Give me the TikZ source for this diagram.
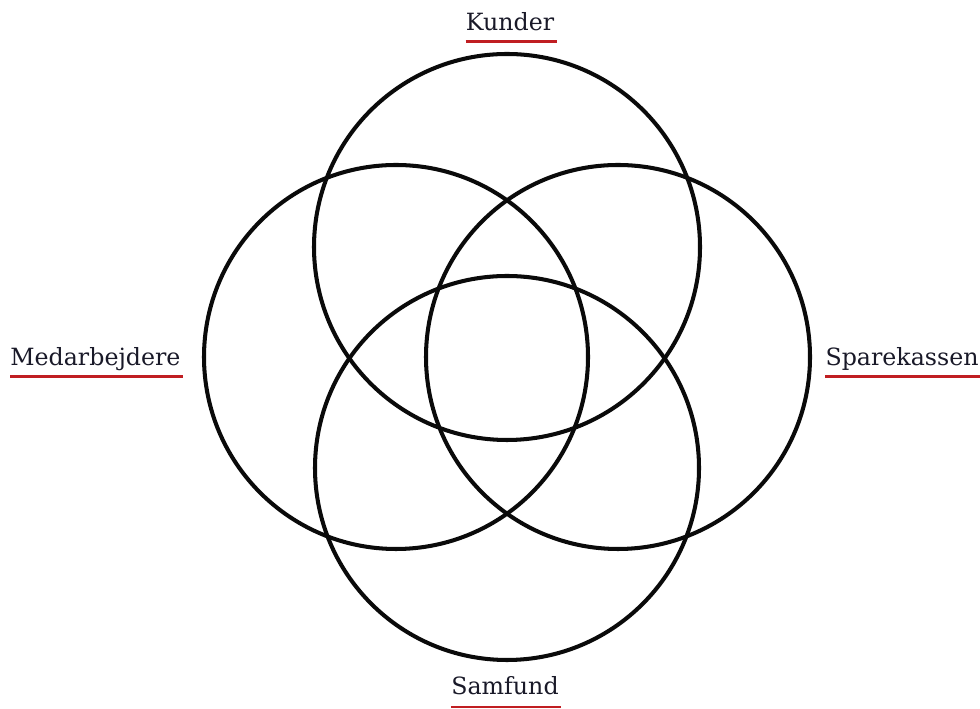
\documentclass[tikz,border=0pt]{standalone}
\usepackage{fontspec}
\setmainfont{DejaVu Serif}
\usetikzlibrary{positioning,calc}

\begin{document}
\begin{tikzpicture}[
    x=0.02cm, y=0.02cm,
    font=\fontsize{13.5}{16}\selectfont,
]

\definecolor{ringColor}{RGB}{10, 10, 10}
\definecolor{lineColor}{RGB}{192, 30, 34}
\definecolor{textColor}{RGB}{25, 25, 40}

\tikzset{
    ring/.style = {draw=ringColor, line width=2.3pt},
    group_label/.style = {inner sep=0pt, anchor=base, text=textColor},
    under_line/.style = {draw=lineColor, line width=1.7pt},
}

% Canvas
\useasboundingbox (0,0) rectangle (980,709);

% =========== CIRCLES ===========
\coordinate (c_top)    at (507,462);
\coordinate (c_left)   at (396,352);
\coordinate (c_right)  at (618,352);
\coordinate (c_bottom) at (507,241);

\draw[ring] (c_top) circle (193);
\draw[ring] (c_left) circle (192);
\draw[ring] (c_right) circle (192);
\draw[ring] (c_bottom) circle (192);

% =========== LABELS ===========
\node[group_label] (kunder) at (510,678) {Kunder};
\node[group_label, anchor=base west] (medarb) at (10,343) {Medarbejdere};
\node[group_label, anchor=base east] (spare) at (979,343) {Sparekassen};
\node[group_label] (samfund) at (505,14) {Samfund};

% Underlines
\draw[under_line] ($(kunder.base west)+(0,-11)$) -- ($(kunder.base east)+(2,-11)$);
\draw[under_line] ($(medarb.base west)+(0,-11)$) -- ($(medarb.base east)+(2,-11)$);
\draw[under_line] ($(spare.base west)+(0,-11)$) -- ($(spare.base east)+(2,-11)$);
\draw[under_line] ($(samfund.base west)+(0,-12)$) -- ($(samfund.base east)+(2,-12)$);

\end{tikzpicture}
\end{document}
